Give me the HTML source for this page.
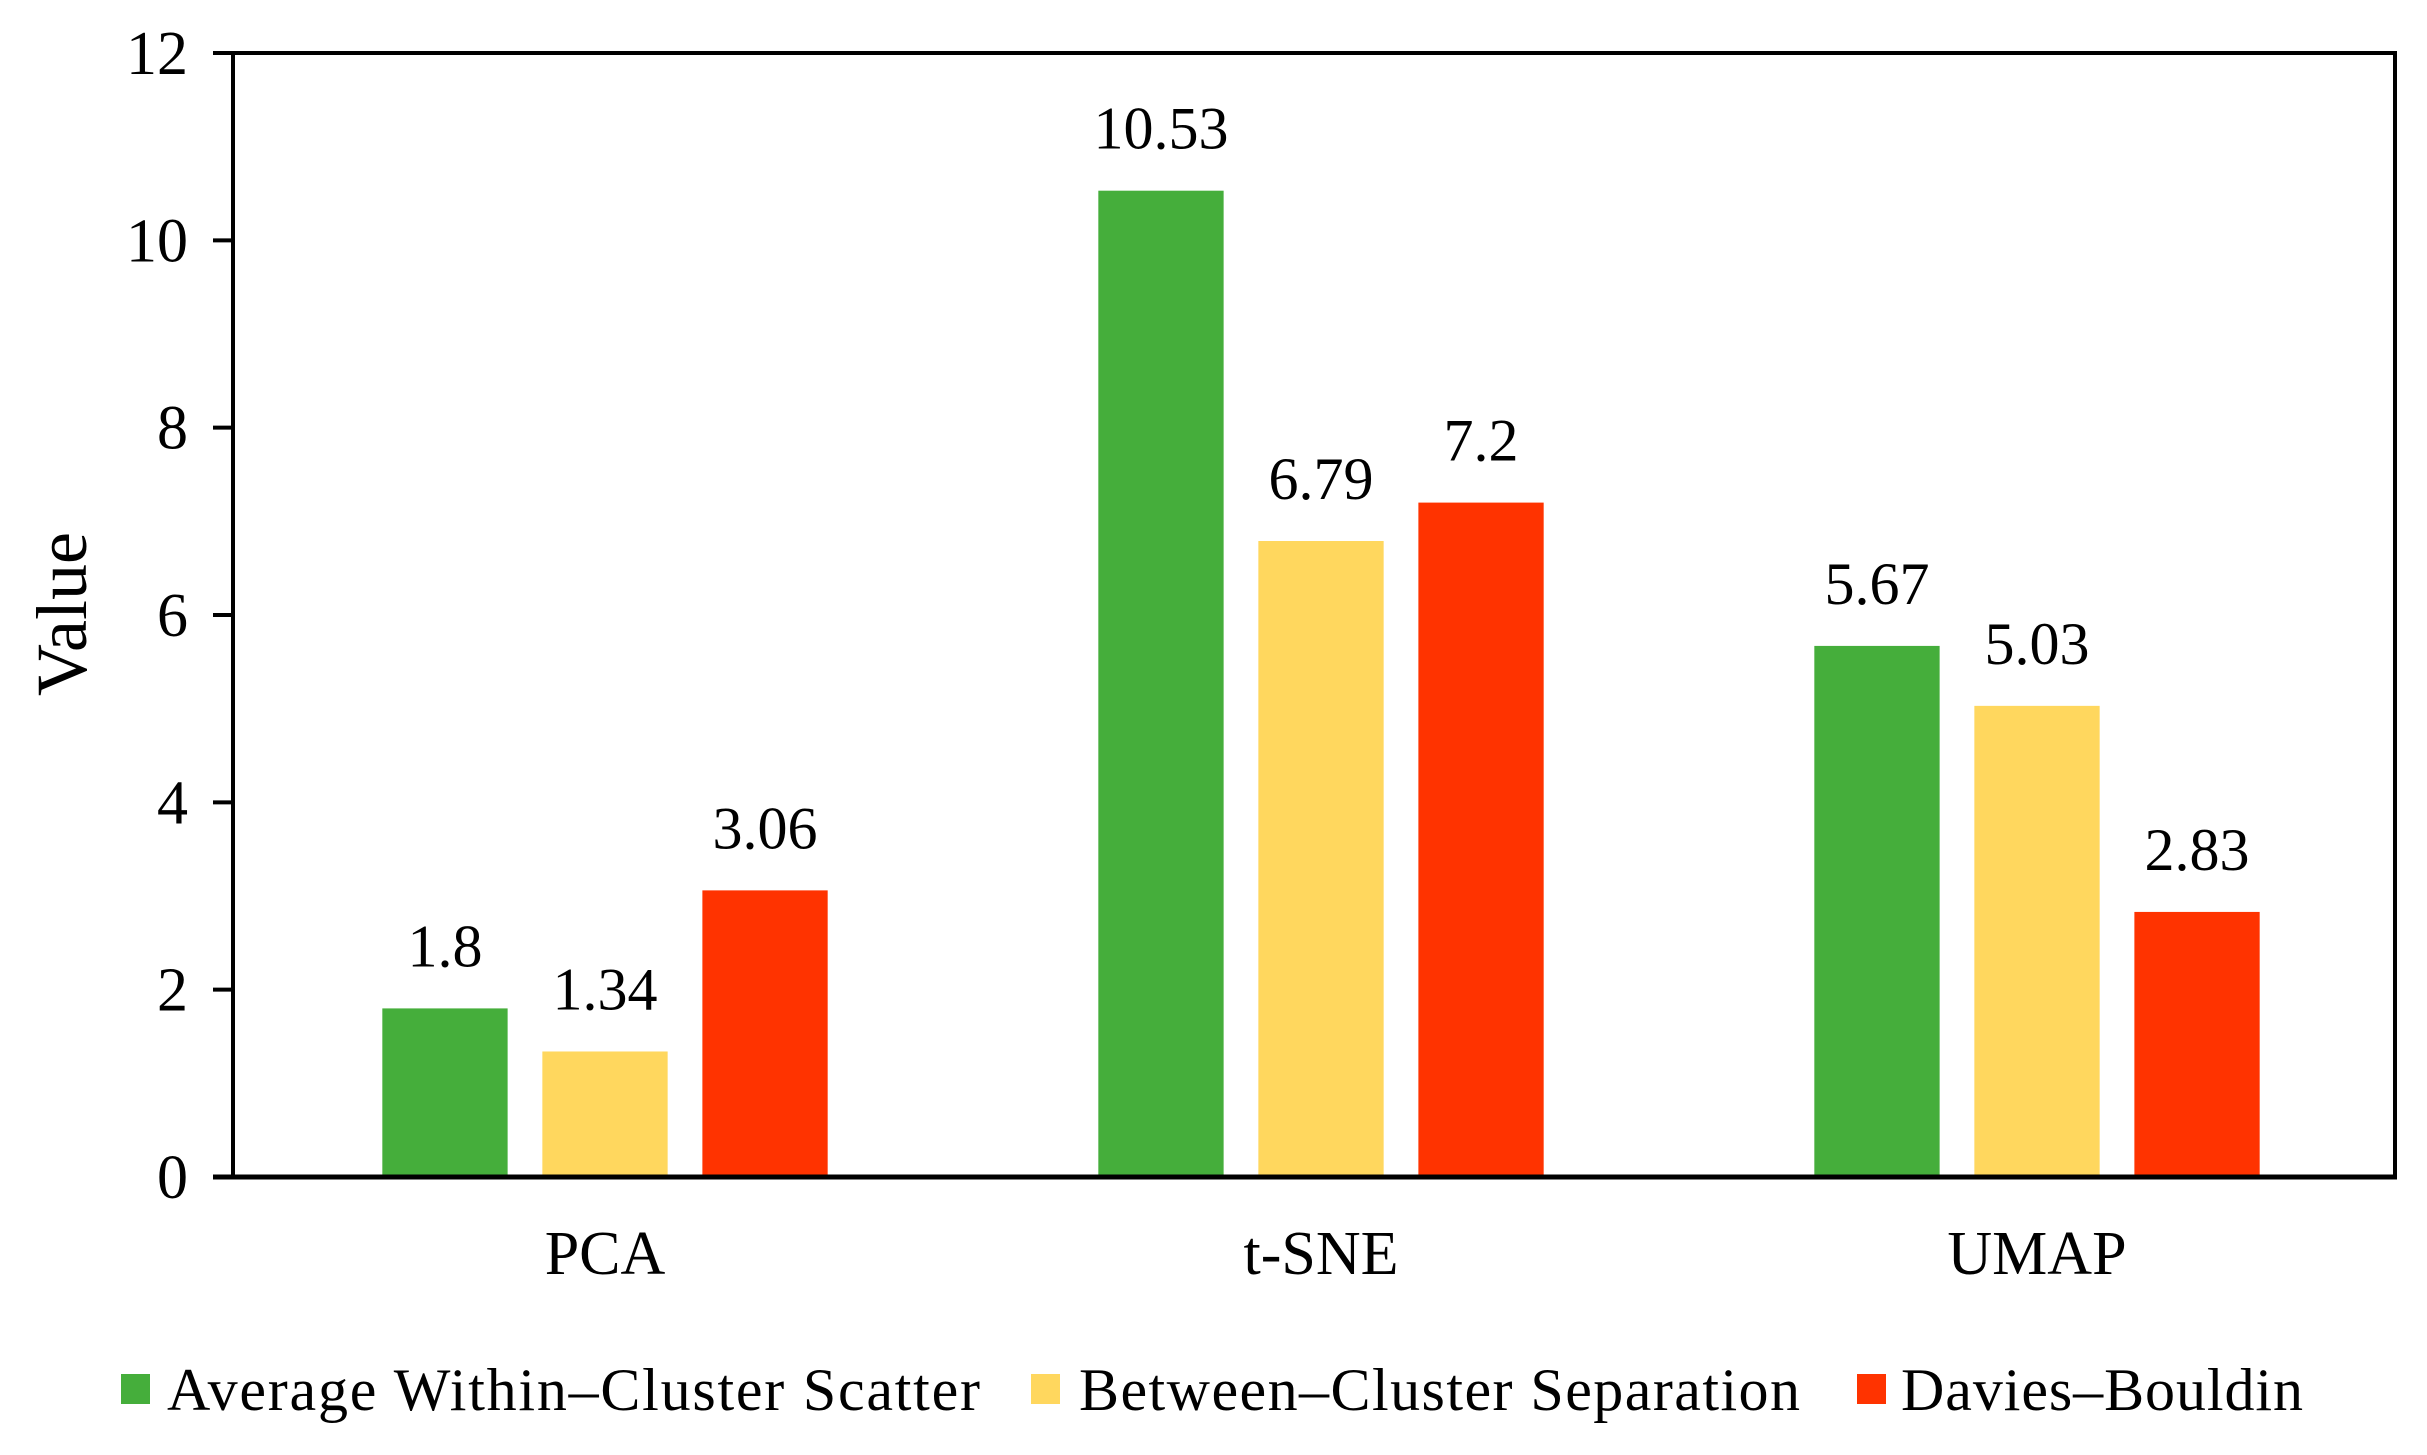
<!DOCTYPE html>
<html><head><meta charset="utf-8"><style>
html,body{margin:0;padding:0;background:#fff;}
svg{display:block;font-family:"Liberation Serif",serif;}
</style></head><body>
<svg id="chart" width="2427" height="1455" viewBox="0 0 2427 1455" xmlns="http://www.w3.org/2000/svg">
<g id="bars"></g>
<g id="labels"></g>
<g id="axes"></g>
<text x="0" y="0" transform="translate(86,614) rotate(-90)" text-anchor="middle" font-size="72" fill="#000">Value</text>
<g>
<rect x="121" y="1374" width="29" height="30" fill="#45AE3B"/>
<text x="167" y="1410" font-size="60" textLength="813" lengthAdjust="spacing">Average Within–Cluster Scatter</text>
<rect x="1031" y="1374" width="29" height="30" fill="#FFD75E"/>
<text x="1079" y="1410" font-size="60" textLength="721" lengthAdjust="spacing">Between–Cluster Separation</text>
<rect x="1857" y="1374" width="29" height="30" fill="#FF3300"/>
<text x="1901" y="1410" font-size="60" textLength="402" lengthAdjust="spacing">Davies–Bouldin</text>
</g>
</svg>
<script>
const categories = ["PCA", "t-SNE", "UMAP"];
const scatterValues = [1.8, 10.53, 5.67];
const separationValues = [1.34, 6.79, 5.03];
const daviesValues = [3.06, 7.2, 2.83];
const scatterLabels = ["1.8", "10.53", "5.67"];
const separationLabels = ["1.34", "6.79", "5.03"];
const daviesLabels = ["3.06", "7.2", "2.83"];
const yTicks = [0, 2, 4, 6, 8, 10, 12];

const NS = "http://www.w3.org/2000/svg";
const axisX = 233, bandLeft = 247, plotRight = 2395, plotTop = 53, plotBottom = 1177, yMax = 12;
const groupW = (plotRight - bandLeft) / categories.length;
const barW = groupW * 0.175, step = groupW * 0.2235;
function yScale(v){ return plotBottom - (v / yMax) * (plotBottom - plotTop); }
function xc(i){ return bandLeft + groupW * (i + 0.5); }
function mk(tag, attrs, parent){ const e = document.createElementNS(NS, tag); for (const k in attrs) e.setAttribute(k, attrs[k]); parent.appendChild(e); return e; }

const barsG = document.getElementById('bars');
const labG = document.getElementById('labels');
const axG = document.getElementById('axes');
const series = [
  {vals: scatterValues, labs: scatterLabels, color: "#45AE3B", key: "scatter"},
  {vals: separationValues, labs: separationLabels, color: "#FFD75E", key: "separation"},
  {vals: daviesValues, labs: daviesLabels, color: "#FF3300", key: "davies-bouldin"}
];
series.forEach((s, si) => {
  s.vals.forEach((v, i) => {
    const cx = xc(i) + (si - 1) * step;
    const r = mk('rect', {x: cx - barW/2, y: yScale(v), width: barW, height: plotBottom - yScale(v), fill: s.color}, barsG);
    
    
    const t = mk('text', {x: cx, y: yScale(v) - 42, 'text-anchor': 'middle', 'font-size': 60, fill: '#000'}, labG);
    t.textContent = s.labs[i];
    
    
  });
});
const box = mk('path', {d: `M${axisX} ${plotBottom} L${axisX} ${plotTop} L${plotRight} ${plotTop} L${plotRight} ${plotBottom}`, fill: 'none', stroke: '#000', 'stroke-width': 4}, axG);


const xa = mk('line', {x1: axisX - 20, x2: plotRight + 2, y1: plotBottom, y2: plotBottom, stroke: '#000', 'stroke-width': 5}, axG);


yTicks.forEach(t => {
  const l = mk('line', {x1: axisX - 20, x2: axisX, y1: yScale(t), y2: yScale(t), stroke: '#000', 'stroke-width': 4}, axG);
  
  
  const tx = mk('text', {x: 188, y: yScale(t) + 21, 'text-anchor': 'end', 'font-size': 62, fill: '#000'}, axG);
  tx.textContent = String(t);
  
  
});
categories.forEach((c, i) => {
  const tx = mk('text', {x: xc(i), y: 1274, 'text-anchor': 'middle', 'font-size': 62, fill: '#000'}, axG);
  tx.textContent = c;
  
  
});
</script>
</body></html>
